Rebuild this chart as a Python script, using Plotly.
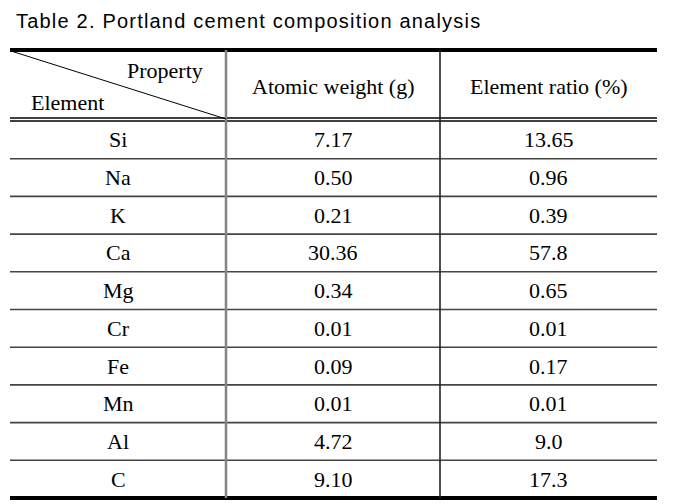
import plotly.graph_objects as go

title_text = "Table 2. Portland cement composition analysis"
corner_top = "Property"
corner_bottom = "Element"
column_headers = ["Atomic weight (g)", "Element ratio (%)"]
elements = ["Si", "Na", "K", "Ca", "Mg", "Cr", "Fe", "Mn", "Al", "C"]
atomic_weight = ["7.17", "0.50", "0.21", "30.36", "0.34", "0.01", "0.09", "0.01", "4.72", "9.10"]
element_ratio = ["13.65", "0.96", "0.39", "57.8", "0.65", "0.01", "0.17", "0.01", "9.0", "17.3"]

# page body has an 8px margin: use a coordinate frame in screen pixels
W, H = 676, 504
OFF = 8
x_left, x_c1, x_c2, x_right = 10, 226, 440, 657
y_top, y_head1, y_head2 = 50, 118, 121
row_h = 37.7

serif = "Liberation Serif"
fs = 22

fig = go.Figure()
shapes = []
def line(x0, y0, x1, y1, color, width):
    shapes.append(dict(type="line", xref="x", yref="y", x0=x0, y0=y0, x1=x1, y1=y1,
                       line=dict(color=color, width=width)))

n = len(elements)
y_bottom = y_head2 + n * row_h
line(x_left, y_top, x_right, y_top, "black", 4)
line(x_left, y_bottom, x_right, y_bottom, "black", 4)
line(x_left, y_head1, x_right, y_head1, "black", 1.3)
line(x_left, y_head2, x_right, y_head2, "black", 1.3)
for i in range(1, n):
    yy = y_head2 + i * row_h
    line(x_left, yy, x_right, yy, "#444444", 1.6)
line(x_c1, y_top, x_c1, y_bottom, "#858585", 2.5)
line(x_c2, y_top, x_c2, y_bottom, "#222222", 1.6)
line(x_left + 1, y_top + 1, x_c1, y_head1 + 1, "black", 1)

ann = []
def text(x, y, s, size=fs, family=serif, xanchor="center"):
    ann.append(dict(x=x, y=y, xref="x", yref="y", text=s, showarrow=False,
                    xanchor=xanchor, yanchor="middle",
                    font=dict(family=family, size=size, color="black")))

text(14, 21, '<span style="letter-spacing:1.2px">' + title_text + '</span>',
     size=20, family="Liberation Sans", xanchor="left")
text(205, 70, corner_top, xanchor="right")
text(29, 102, corner_bottom, xanchor="left")
text((x_c1 + x_c2) / 2, 86, column_headers[0])
text((x_c2 + x_right) / 2, 86, column_headers[1])
for i, (e, a, r) in enumerate(zip(elements, atomic_weight, element_ratio)):
    yc = y_head2 + (i + 0.5) * row_h
    text((x_left + x_c1) / 2, yc, e)
    text((x_c1 + x_c2) / 2, yc, a)
    text((x_c2 + x_right) / 2, yc, r)

fig.update_layout(
    width=W - OFF, height=H - OFF, margin=dict(l=0, r=0, t=0, b=0),
    paper_bgcolor="white", plot_bgcolor="white",
    xaxis=dict(range=[OFF, W], visible=False, fixedrange=True),
    yaxis=dict(range=[H, OFF], visible=False, fixedrange=True),
    shapes=shapes, annotations=ann, showlegend=False,
)
fig.write_html("out.html")
